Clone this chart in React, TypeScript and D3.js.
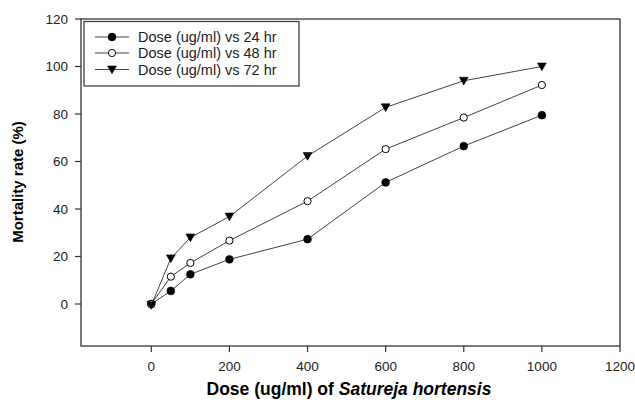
import { useEffect } from 'react';
import * as d3 from 'd3';

const doses = [0, 50, 100, 200, 400, 600, 800, 1000];
const mortality24 = [0, 5.5, 12.5, 18.8, 27.3, 51.2, 66.5, 79.5];
const mortality48 = [0, 11.5, 17.3, 26.7, 43.3, 65.2, 78.5, 92.2];
const mortality72 = [-0.5, 19.2, 28, 36.8, 62.3, 82.8, 94, 100];
const xTicks = [0, 200, 400, 600, 800, 1000, 1200];
const yTicks = [0, 20, 40, 60, 80, 100, 120];
const seriesNames = ['Dose (ug/ml) vs 24 hr', 'Dose (ug/ml) vs 48 hr', 'Dose (ug/ml) vs 72 hr'];

type MarkerKind = 'filled' | 'open' | 'triangle';
const markerKinds: MarkerKind[] = ['filled', 'open', 'triangle'];
const allSeries = [mortality24, mortality48, mortality72];

const width = 635;
const height = 400;
const frame = { left: 81, right: 620, top: 19, bottom: 346 };
const font = '"Liberation Sans", Arial, sans-serif';
const ink = '#333';

function Marker({ kind, x, y }: { kind: MarkerKind; x: number; y: number }) {
  if (kind === 'triangle') {
    const s = 4.4;
    return (
      <path
        d={`M${x - s},${y - s * 0.8} L${x + s},${y - s * 0.8} L${x},${y + s * 0.95} Z`}
        fill="#000"
        stroke="#000"
        strokeWidth={0.6}
      />
    );
  }
  return (
    <circle
      cx={x}
      cy={y}
      r={kind === 'open' ? 3.6 : 3.9}
      fill={kind === 'open' ? '#fff' : '#000'}
      stroke="#000"
      strokeWidth={kind === 'open' ? 1 : 0.6}
    />
  );
}

export default function App() {
  useEffect(() => {
    document.body.style.margin = '0';
  }, []);

  const x = d3.scaleLinear().domain([-180, 1200]).range([frame.left, frame.right]);
  const y = d3.scaleLinear().domain([0, 120]).range([304, frame.top]);
  const line = d3
    .line<number>()
    .x((_, i) => x(doses[i]))
    .y(v => y(v));

  const legendRows = [37, 53, 69.5];

  return (
    <svg width={width} height={height} style={{ display: 'block', background: '#fff' }} fontFamily={font}>
      {/* series lines (drawn under markers) */}
      {allSeries.map((vals, si) => (
        <path key={`l${si}`} d={line(vals) ?? ''} fill="none" stroke="#444" strokeWidth={1} />
      ))}
      {allSeries.map((vals, si) =>
        vals.map((v, i) => (
          <Marker key={`m${si}-${i}`} kind={markerKinds[si]} x={x(doses[i])} y={y(v)} />
        ))
      )}

      {/* frame */}
      <rect
        x={frame.left}
        y={frame.top}
        width={frame.right - frame.left}
        height={frame.bottom - frame.top}
        fill="none"
        stroke={ink}
        strokeWidth={1.3}
      />

      {/* y ticks */}
      {yTicks.map(t => (
        <g key={`yt${t}`}>
          <line x1={frame.left - 6} x2={frame.left} y1={y(t)} y2={y(t)} stroke={ink} strokeWidth={1.2} />
          <text x={68} y={y(t)} dy="0.35em" textAnchor="end" fontSize={13.5} fill="#222">
            {t}
          </text>
        </g>
      ))}

      {/* x ticks */}
      {xTicks.map(t => (
        <g key={`xt${t}`}>
          <line x1={x(t)} x2={x(t)} y1={frame.bottom} y2={frame.bottom + 6} stroke={ink} strokeWidth={1.2} />
          <text x={x(t)} y={366} dy="0.35em" textAnchor="middle" fontSize={13.5} fill="#222">
            {t}
          </text>
        </g>
      ))}

      {/* axis titles */}
      <text x={349} y={389} dy="0.35em" textAnchor="middle" fontSize={17.5} fontWeight="bold" fill="#000">
        Dose (ug/ml) of <tspan fontStyle="italic">Satureja hortensis</tspan>
      </text>
      <text
        transform={`translate(18,182) rotate(-90)`}
        dy="0.35em"
        textAnchor="middle"
        fontSize={15}
        fontWeight="bold"
        fill="#000"
      >
        Mortality rate (%)
      </text>

      {/* legend */}
      <rect x={84} y={21.5} width={215} height={64.5} fill="#fff" stroke={ink} strokeWidth={1.2} />
      {seriesNames.map((name, i) => (
        <g key={name}>
          <line x1={95} x2={129} y1={legendRows[i]} y2={legendRows[i]} stroke="#444" strokeWidth={1} />
          <Marker kind={markerKinds[i]} x={112} y={legendRows[i]} />
          <text x={138} y={legendRows[i]} dy="0.35em" fontSize={14.5} fill="#222">
            {name}
          </text>
        </g>
      ))}
    </svg>
  );
}
